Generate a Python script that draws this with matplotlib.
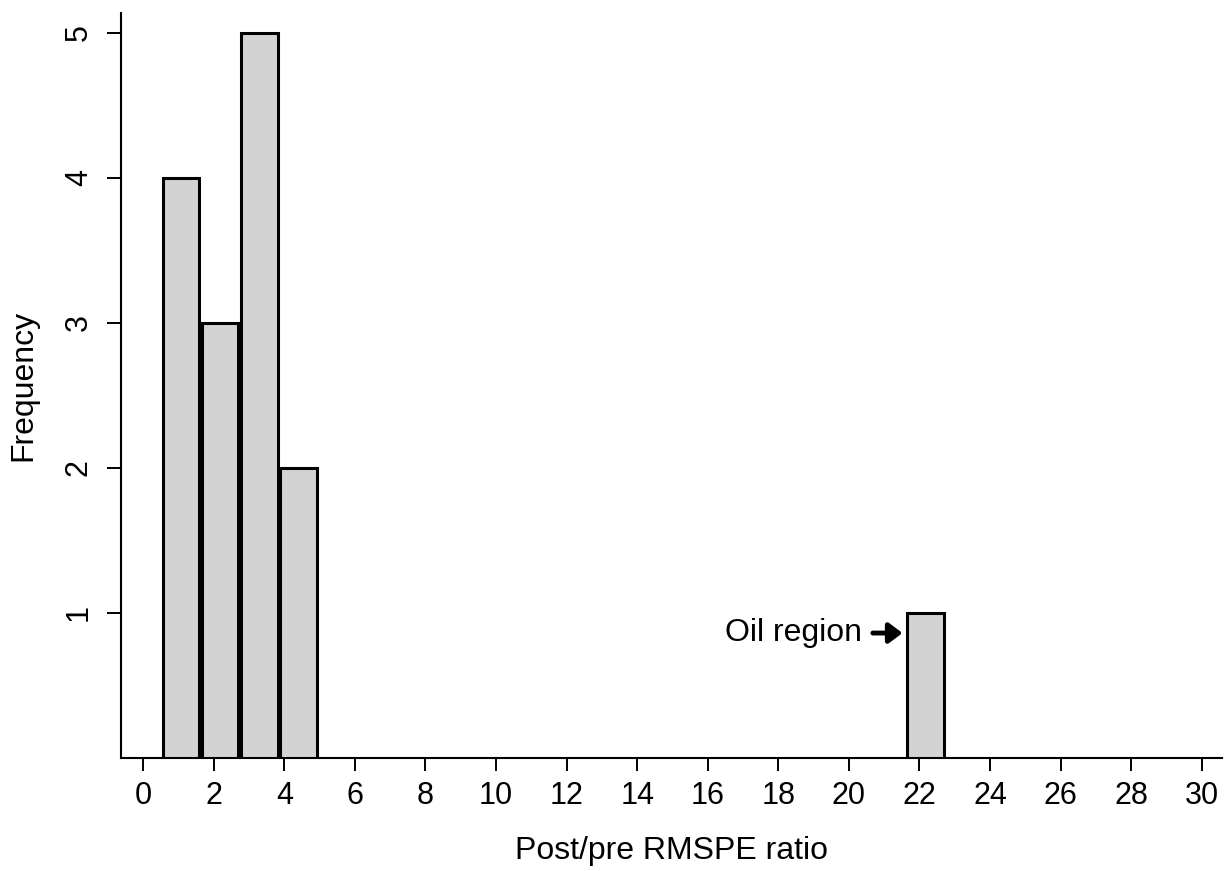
import matplotlib
matplotlib.use('Agg')
import matplotlib.pyplot as plt

# histogram bins (post/pre RMSPE ratio) and counts
bin_centers = [1.07, 2.18, 3.29, 4.40, 22.17]
frequencies = [4, 3, 5, 2, 1]
x_ticks = list(range(0, 31, 2))
y_ticks = [1, 2, 3, 4, 5]

plt.rcParams['font.family'] = ['Liberation Sans', 'DejaVu Sans']

fig = plt.figure(figsize=(12.32, 8.71), dpi=100)
ax = fig.add_axes([0.0982, 0.1301, 0.8935, 0.8553])

ax.bar(bin_centers, frequencies, width=1.04, color='#d3d3d3',
       edgecolor='black', linewidth=2.2, zorder=3)

ax.set_xlim(-0.63, 30.57)
ax.set_ylim(0, 5.14)
ax.set_xticks(x_ticks)
ax.set_yticks(y_ticks)
ax.tick_params(axis='x', labelsize=22, length=9.5, width=1.4, pad=7)
ax.tick_params(axis='y', labelsize=22, length=10, width=1.4, pad=9.5,
               labelrotation=90)
for lbl in ax.get_yticklabels():
    lbl.set_va('center')

for side in ['top', 'right']:
    ax.spines[side].set_visible(False)
for side in ['left', 'bottom']:
    ax.spines[side].set_linewidth(1.5)

ax.set_xlabel('Post/pre RMSPE ratio', fontsize=23)
ax.set_ylabel('Frequency', fontsize=23)
ax.xaxis.set_label_coords(0.5, -0.105)
ax.yaxis.set_label_coords(-0.075, 0.5)

ax.text(20.37, 0.86, 'Oil region', fontsize=23, ha='right', va='center')
ax.annotate('', xy=(21.52, 0.86), xytext=(20.68, 0.86),
            arrowprops=dict(arrowstyle='-|>,head_width=0.6,head_length=0.8',
                            lw=3.5, color='black', shrinkA=0, shrinkB=0))

fig.savefig('out.png', dpi=100)
